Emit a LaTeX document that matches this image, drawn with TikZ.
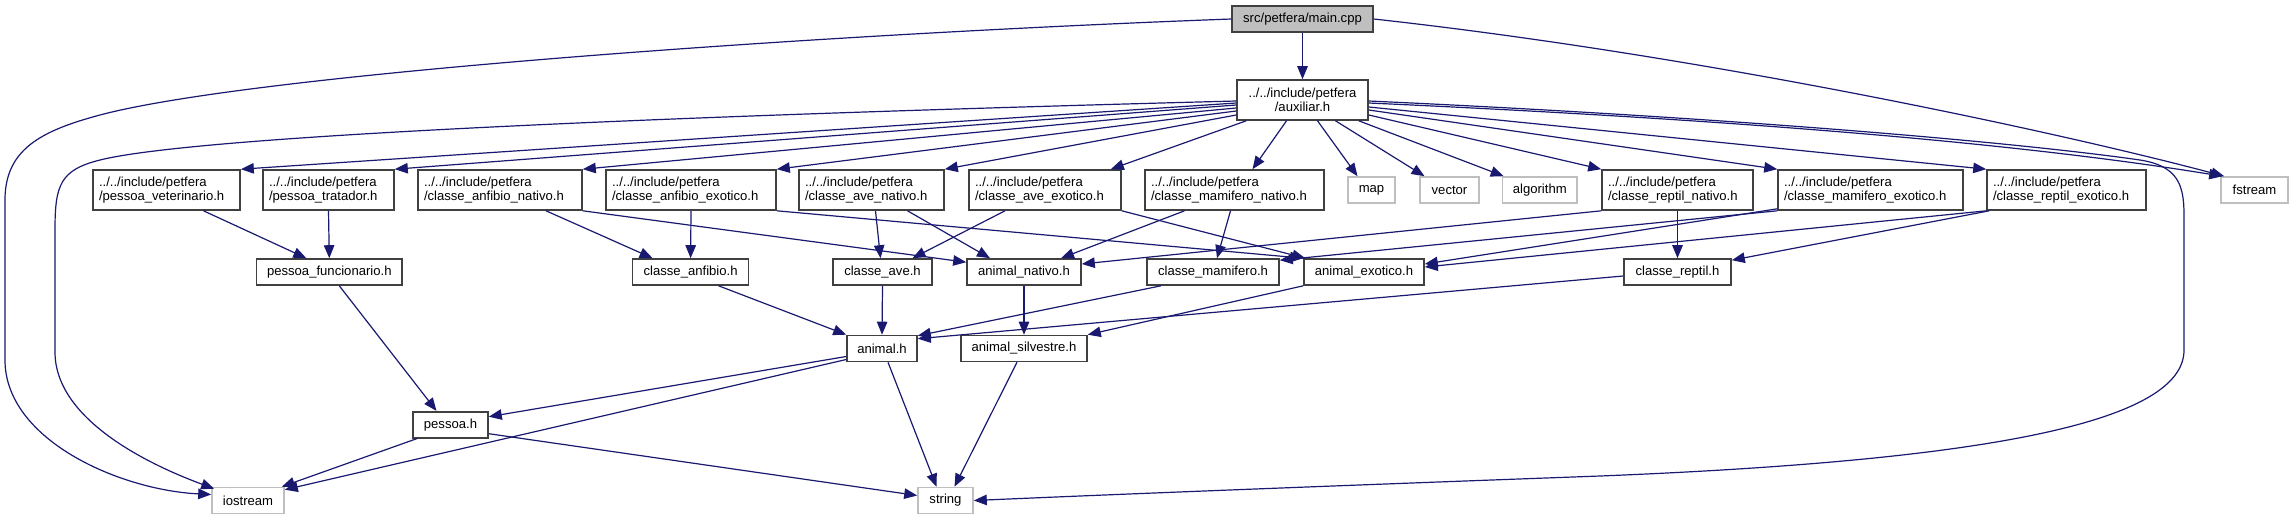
\documentclass[tikz,border=0pt]{standalone}
\usepackage{fontspec}
\setmainfont{Liberation Sans}
\usetikzlibrary{arrows.meta}
\definecolor{edgeblue}{HTML}{191970}
\definecolor{nodeborder}{HTML}{404040}
\definecolor{lightborder}{HTML}{BFBFBF}
\definecolor{mainfill}{HTML}{BFBFBF}
\begin{document}
\begin{tikzpicture}[x=1pt,y=-1pt,
  every node/.style={font=\fontsize{13.1}{14}\selectfont, inner sep=0pt},
  hdr/.style={draw=nodeborder, line width=1.6pt, fill=white, minimum height=26pt, minimum width=#1},
  sys/.style={draw=lightborder, line width=1.6pt, fill=white, minimum height=26pt, minimum width=#1},
  two/.style={draw=nodeborder, line width=1.6pt, fill=white, minimum height=40pt, text width=#1, inner xsep=6pt, align=left},
  dep/.style={draw=edgeblue, line width=1.2pt, -{Triangle[length=13pt,width=10.5pt]}}
]
\useasboundingbox (0,0) rectangle (2293,515);
% row 0
\node[hdr=141pt, fill=mainfill] (main) at (1302.5,19) {src/petfera/main.cpp};
% row 1
\node[draw=nodeborder, line width=1.6pt, fill=white, minimum height=40pt, minimum width=131pt, align=center] (aux) at (1302.5,100) {../../include/petfera\\/auxiliar.h};
% row 2
\node[two=135pt] (vet) at (166.5,190) {../../include/petfera\\/pessoa\_veterinario.h};
\node[two=119pt] (trat) at (328.5,190) {../../include/petfera\\/pessoa\_tratador.h};
\node[two=152pt] (anfn) at (500,190) {../../include/petfera\\/classe\_anfibio\_nativo.h};
\node[two=158pt] (anfe) at (691,190) {../../include/petfera\\/classe\_anfibio\_exotico.h};
\node[two=133pt] (aven) at (871.5,190) {../../include/petfera\\/classe\_ave\_nativo.h};
\node[two=140pt] (avee) at (1045,190) {../../include/petfera\\/classe\_ave\_exotico.h};
\node[two=167pt] (mamn) at (1234.5,190) {../../include/petfera\\/classe\_mamifero\_nativo.h};
\node[sys=47pt] (nmap) at (1371.5,190) {map};
\node[sys=59pt] (nvector) at (1449.5,190) {vector};
\node[sys=74.5pt] (nalgo) at (1539.75,190) {algorithm};
\node[two=139pt] (repn) at (1677.5,190) {../../include/petfera\\/classe\_reptil\_nativo.h};
\node[two=173pt] (mame) at (1870.5,190) {../../include/petfera\\/classe\_mamifero\_exotico.h};
\node[two=147pt] (repe) at (2066.5,190) {../../include/petfera\\/classe\_reptil\_exotico.h};
\node[sys=67pt] (fstream) at (2254.5,190) {fstream};
% row 3
\node[hdr=145.4pt] (func) at (329.3,272) {pessoa\_funcionario.h};
\node[hdr=116pt] (anf) at (690.6,272) {classe\_anfibio.h};
\node[hdr=99pt] (ave) at (882.5,272) {classe\_ave.h};
\node[hdr=114pt] (natv) at (1024,272) {animal\_nativo.h};
\node[hdr=132pt] (mam) at (1213,272) {classe\_mamifero.h};
\node[hdr=120pt] (exot) at (1364,272) {animal\_exotico.h};
\node[hdr=107pt] (rep) at (1677.5,272) {classe\_reptil.h};
% row 4
\node[hdr=70pt] (animal) at (882,348.5) {animal.h};
\node[hdr=126pt] (silv) at (1024,348.5) {animal\_silvestre.h};
% row 5
\node[hdr=75pt] (pessoa) at (450.5,424.7) {pessoa.h};
% row 6
\node[sys=72pt] (iostream) at (248,500.5) {iostream};
\node[sys=55pt] (nstring) at (945.5,500.5) {string};

% main.cpp
\draw[dep] (main.south) -- (aux.north);
\draw[dep] (main.west) .. controls (800,35) and (250,75) .. (100,115) .. controls (40,131) and (5,150) .. (5,200) -- (5,360) .. controls (5,440) and (120,490) .. ([yshift=6pt]iostream.west);
\draw[dep] (main.east) .. controls (1700,55) and (2050,130) .. ([xshift=4pt]fstream.north west);

% auxiliar.h
\draw[dep] ([yshift=-3pt]aux.west) -- (vet.north east);
\draw[dep] ([yshift=-5pt]aux.west) -- (trat.north east);
\draw[dep] ([yshift=-8pt]aux.west) -- (anfn.north east);
\draw[dep] ([yshift=-11pt]aux.west) -- (anfe.north east);
\draw[dep] ([yshift=-15pt]aux.west) -- (aven.north east);
\draw[dep] ([xshift=10pt]aux.south west) -- ([xshift=-11pt]avee.north east);
\draw[dep] ([xshift=-16pt]aux.south) -- ([xshift=18pt]mamn.north);
\draw[dep] ([xshift=15pt]aux.south) -- ([xshift=-14pt]nmap.north);
\draw[dep] ([xshift=33pt]aux.south) -- ([xshift=-25pt]nvector.north);
\draw[dep] ([xshift=-10pt]aux.south east) -- ([xshift=2pt]nalgo.north west);
\draw[dep] ([yshift=-15pt]aux.east) -- (repn.north west);
\draw[dep] ([yshift=-10pt]aux.east) -- (mame.north west);
\draw[dep] ([yshift=-7pt]aux.east) -- (repe.north west);
\draw[dep] ([yshift=-3pt]aux.east) .. controls (1700,118) and (2000,140) .. ([xshift=2pt]fstream.north west);
\draw[dep] ([yshift=-1pt]aux.east) .. controls (1700,116) and (2000,140) .. (2140,160) .. controls (2178,166) and (2184,185) .. (2184,215) -- (2184,350) .. controls (2184,420) and (2000,460) .. (1600,476) .. controls (1300,487) and (1100,495) .. (nstring.east);
\draw[dep] ([yshift=-1pt]aux.west) .. controls (700,115) and (200,135) .. (100,160) .. controls (60,170) and (55,185) .. (55,230) -- (55,352) .. controls (55,420) and (150,465) .. ([xshift=3pt,yshift=-2pt]iostream.north west);

% row 2 -> row 3
\draw[dep] ([xshift=37pt]vet.south) -- ([xshift=-23pt]func.north);
\draw[dep] (trat.south) -- (func.north);
\draw[dep] ([xshift=46pt]anfn.south) -- ([xshift=-38pt]anf.north);
\draw[dep] (anfn.south east) -- ([yshift=-4pt]natv.north west);
\draw[dep] (anfe.south) -- (anf.north);
\draw[dep] (anfe.south east) -- (exot.north west);
\draw[dep] ([xshift=4pt]aven.south) -- ([xshift=-2pt]ave.north);
\draw[dep] ([xshift=36pt]aven.south) -- ([xshift=-34pt]natv.north);
\draw[dep] ([xshift=-40pt]avee.south) -- ([xshift=30pt]ave.north);
\draw[dep] (avee.south east) -- ([xshift=2pt]exot.north west);
\draw[dep] ([xshift=-50pt]mamn.south) -- ([xshift=37pt]natv.north);
\draw[dep] ([xshift=-4pt]mamn.south) -- ([xshift=4pt]mam.north);
\draw[dep] (repn.south west) -- ([yshift=8pt]natv.east);
\draw[dep] (repn.south) -- (rep.north);
\draw[dep] (mame.south west) -- ([yshift=-2pt]mam.north east);
\draw[dep] ([yshift=2pt]mame.south west) -- ([yshift=8pt]exot.east);
\draw[dep] (repe.south west) -- ([yshift=5pt]exot.east);
\draw[dep] ([xshift=3pt]repe.south west) -- ([yshift=-2pt]rep.north east);

% row 3 -> row 4
\draw[dep] ([xshift=10pt]func.south) -- ([xshift=-14pt]pessoa.north);
\draw[dep] ([xshift=28pt]anf.south) -- (animal.north west);
\draw[dep] (ave.south) -- (animal.north);
\draw[dep] (natv.south) -- (silv.north);
\draw[dep] ([xshift=-52pt]mam.south) -- ([yshift=-1pt]animal.north east);
\draw[dep] (exot.south west) -- (silv.north east);
\draw[dep] ([yshift=-4pt]rep.west) -- ([yshift=-4pt]animal.north east);

% lower rows
\draw[dep] ([yshift=-8pt]animal.west) -- ([yshift=8pt]pessoa.east);
\draw[dep] ([yshift=-11pt]animal.west) -- ([yshift=-3pt]iostream.north east);
\draw[dep] ([xshift=6pt]animal.south) -- ([xshift=-9pt]nstring.north);
\draw[dep] ([xshift=-7pt]silv.south) -- ([xshift=9pt]nstring.north);
\draw[dep] ([xshift=5pt]pessoa.south west) -- ([xshift=-3pt]iostream.north east);
\draw[dep] ([yshift=-9pt]pessoa.east) -- ([yshift=5pt]nstring.west);
\end{tikzpicture}
\end{document}
